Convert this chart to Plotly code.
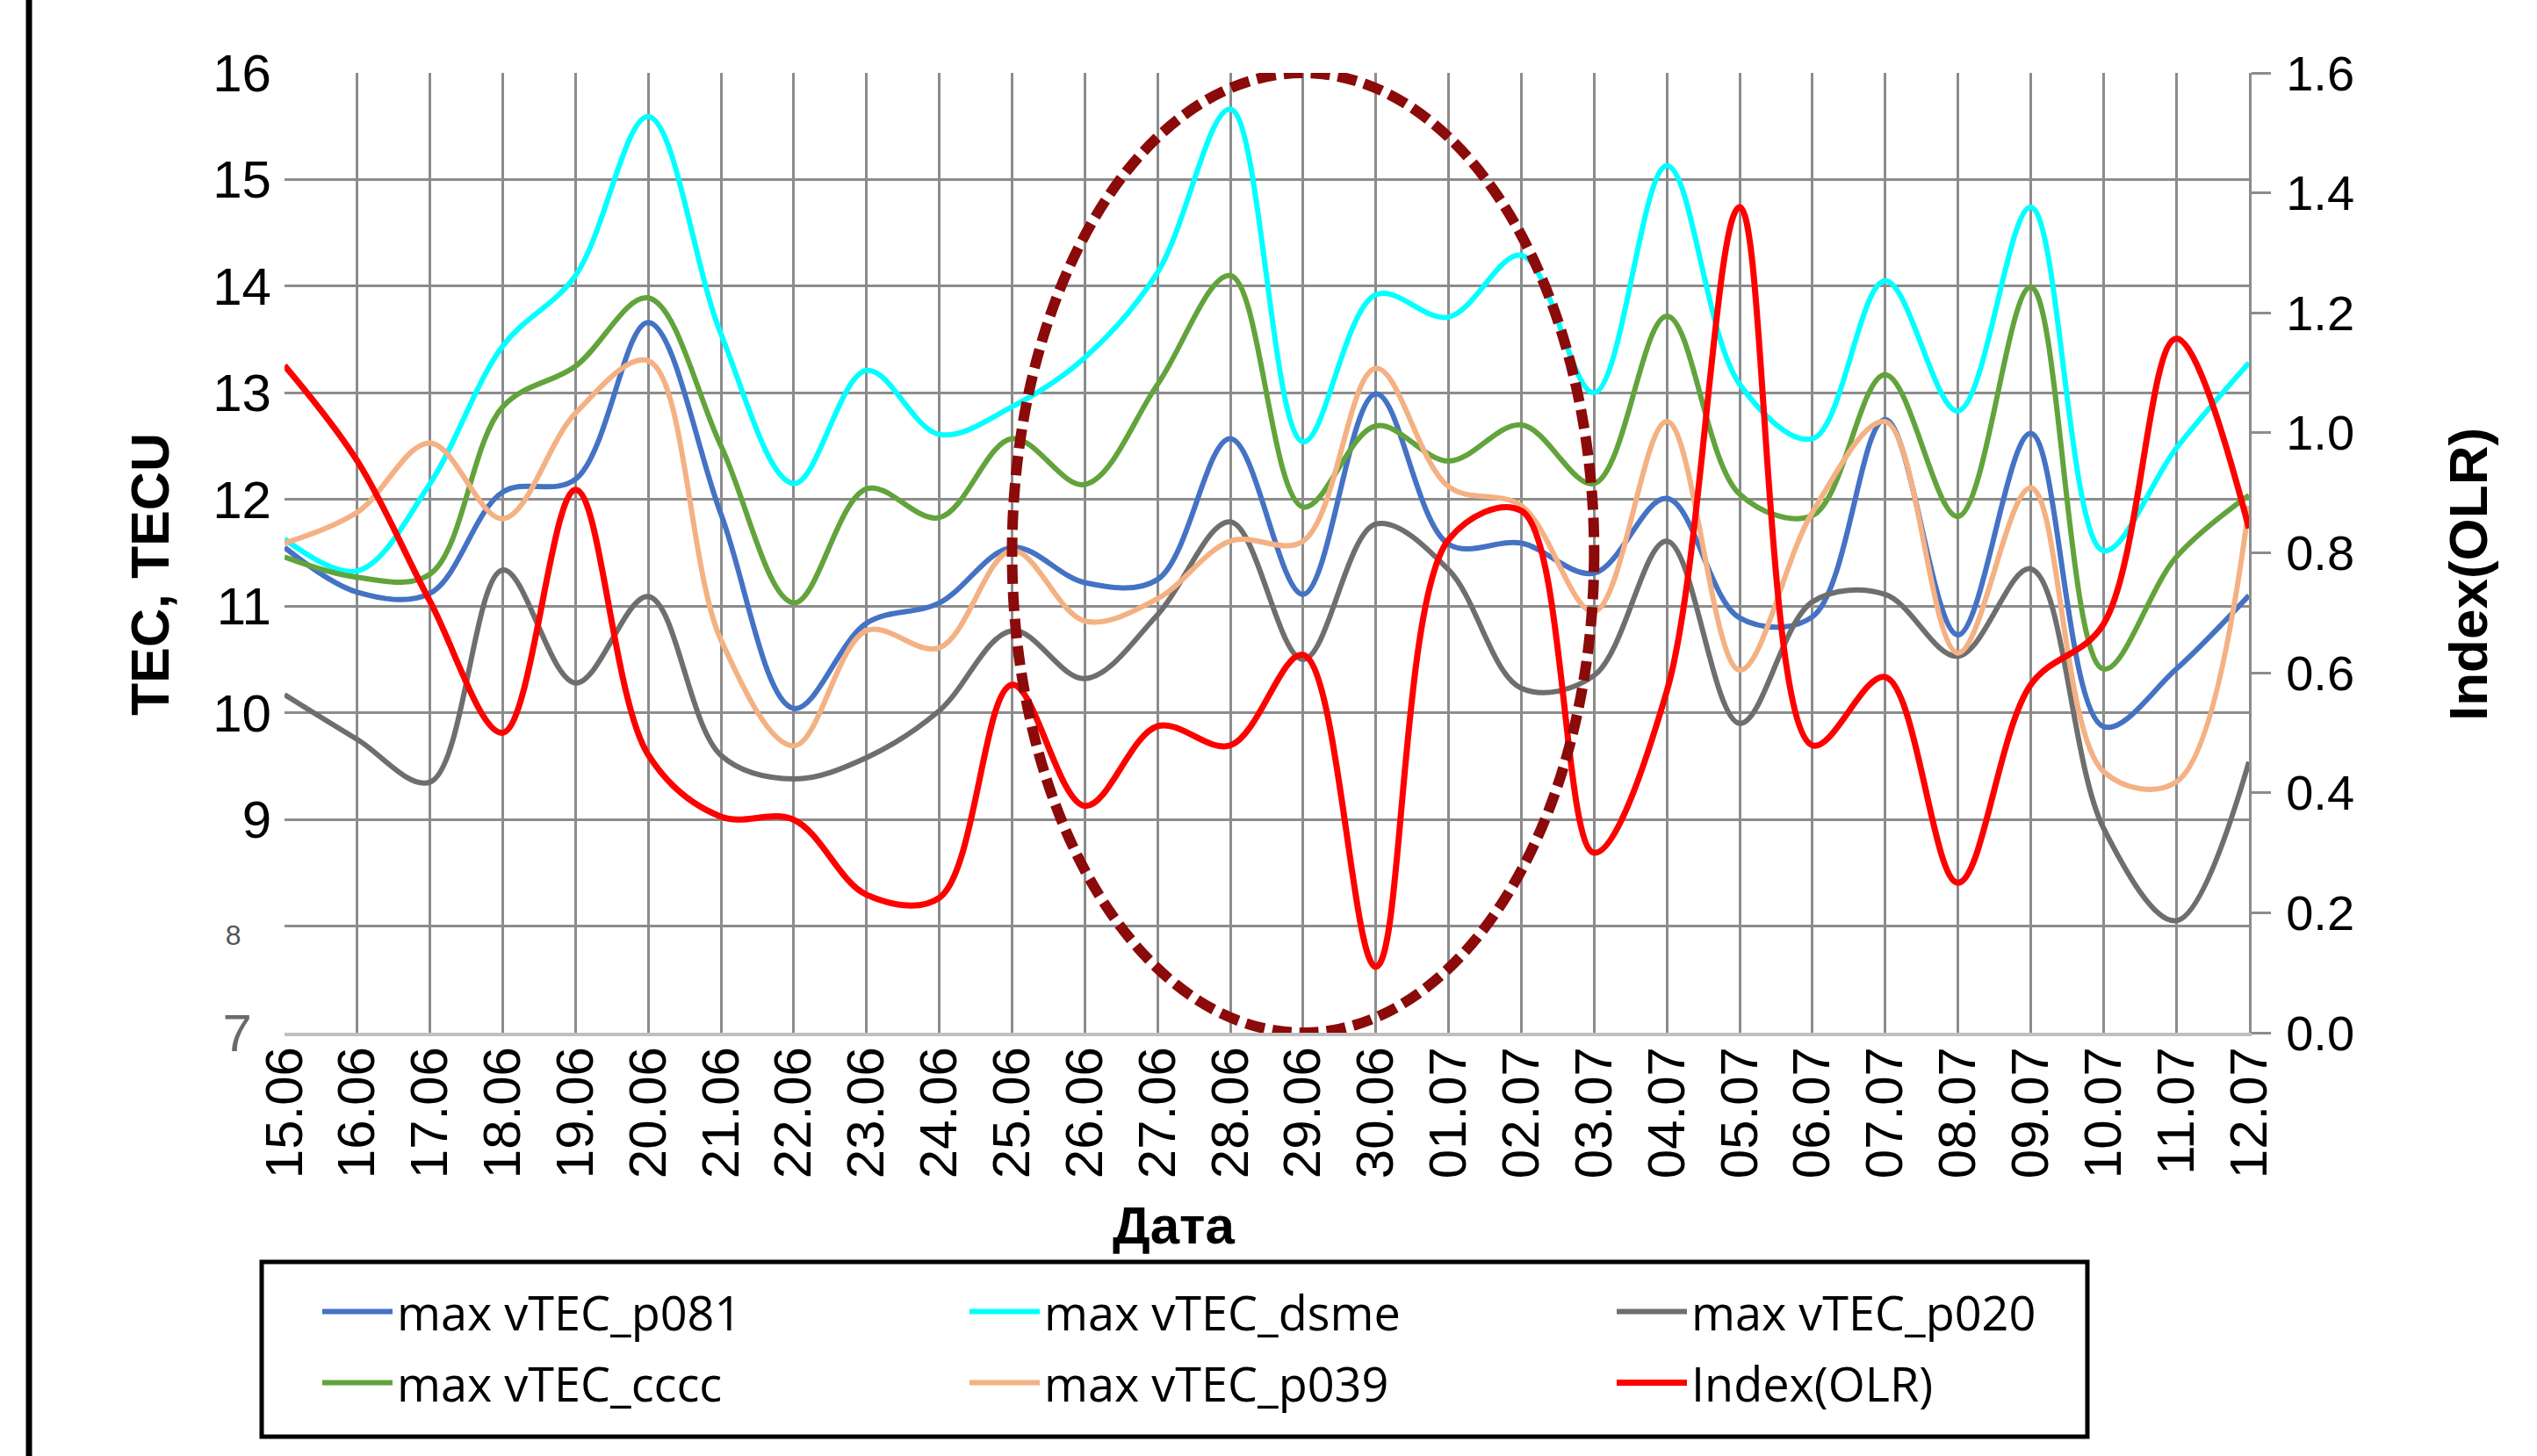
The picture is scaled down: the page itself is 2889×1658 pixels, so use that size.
import plotly.graph_objects as go

dates = ["15.06", "16.06", "17.06", "18.06", "19.06", "20.06", "21.06", "22.06", "23.06",
         "24.06", "25.06", "26.06", "27.06", "28.06", "29.06", "30.06", "01.07", "02.07",
         "03.07", "04.07", "05.07", "06.07", "07.07", "08.07", "09.07", "10.07", "11.07", "12.07"]

p081 = [11.55, 11.13, 11.12, 12.07, 12.19, 13.66, 11.86, 10.04, 10.84, 11.03, 11.55, 11.22, 11.25, 12.57,
        11.11, 12.99, 11.58, 11.59, 11.31, 12.01, 10.89, 10.90, 12.75, 10.73, 12.62, 9.87, 10.41, 11.10]
dsme = [11.63, 11.33, 12.15, 13.44, 14.10, 15.59, 13.55, 12.15, 13.21, 12.61, 12.87, 13.33, 14.13, 15.66,
        12.54, 13.92, 13.71, 14.29, 13.00, 15.13, 13.08, 12.57, 14.05, 12.83, 14.74, 11.52, 12.48, 13.28]
p020 = [10.17, 9.75, 9.35, 11.34, 10.28, 11.09, 9.60, 9.38, 9.58, 10.02, 10.77, 10.32, 10.92, 11.79,
        10.50, 11.77, 11.34, 10.23, 10.35, 11.61, 9.90, 11.04, 11.11, 10.53, 11.35, 8.92, 8.05, 9.54]
cccc = [11.46, 11.27, 11.30, 12.87, 13.25, 13.89, 12.50, 11.03, 12.10, 11.83, 12.57, 12.14, 13.08, 14.10,
        11.93, 12.69, 12.36, 12.70, 12.15, 13.72, 12.05, 11.85, 13.17, 11.84, 13.99, 10.41, 11.46, 12.04]
p039 = [11.59, 11.88, 12.53, 11.82, 12.81, 13.30, 10.68, 9.69, 10.77, 10.61, 11.52, 10.86, 11.07, 11.61,
        11.61, 13.23, 12.12, 11.94, 10.95, 12.73, 10.40, 11.88, 12.73, 10.56, 12.11, 9.45, 9.35, 11.94]
olr = [1.112, 0.953, 0.719, 0.500, 0.905, 0.463, 0.360, 0.355, 0.230, 0.225, 0.580, 0.378, 0.511, 0.479,
       0.630, 0.110, 0.822, 0.870, 0.300, 0.570, 1.376, 0.479, 0.593, 0.250, 0.580, 0.681, 1.157, 0.841]

left_ticks = [7, 8, 9, 10, 11, 12, 13, 14, 15, 16]
spacer = "<span style='font-size:80px;color:rgba(0,0,0,0)'>.</span>"
spacer8 = "<span style='font-size:62px;color:rgba(0,0,0,0)'>1</span>"
left_ticktext = ["<span style='color:#6A6A6A'>7</span>" + spacer,
                 "<span style='font-size:32px;color:#555555'>8</span>" + spacer8,
                 "9", "10", "11", "12", "13", "14", "15", "16"]

W, H = 2889, 1658
L, R, T, B = 324, 2561, 83, 1176
pw = R - L
ph = B - T


def px_x(xp):
    return (xp - L) / pw


def px_y(yp):
    return (B - yp) / ph


fig = go.Figure()

series = [
    ("max vTEC_p081", p081, "#4472C4", 6, "y", "legend"),
    ("max vTEC_dsme", dsme, "#00FFFF", 6, "y", "legend"),
    ("max vTEC_p020", p020, "#6E6E6E", 6, "y", "legend"),
    ("max vTEC_cccc", cccc, "#62A33C", 6, "y", "legend2"),
    ("max vTEC_p039", p039, "#F4B183", 6, "y", "legend2"),
    ("Index(OLR)", olr, "#FF0000", 7, "y2", "legend2"),
]
for name, vals, col, w, ax, lg in series:
    fig.add_trace(go.Scatter(x=dates, y=vals, name=name, mode="lines", yaxis=ax, legend=lg,
                             line=dict(color=col, width=w, shape="spline", smoothing=1.0)))

legend_common = dict(
    orientation="h", xref="paper", yref="paper",
    x=px_x(362), xanchor="left", yanchor="top",
    entrywidth=642, entrywidthmode="pixels", itemwidth=80,
    font=dict(size=54, family="Open Sans, Noto Sans"),
    bgcolor="rgba(0,0,0,0)", borderwidth=0, traceorder="normal",
)

fig.update_layout(
    width=W, height=H,
    margin=dict(l=L, r=W - R, t=T, b=H - B, autoexpand=False),
    paper_bgcolor="white", plot_bgcolor="white",
    font=dict(family="Liberation Sans, Arial", color="black"),
    xaxis=dict(
        type="category", range=[0, len(dates) - 1],
        tickangle=-90, tickfont=dict(size=60, family="Liberation Sans, Arial"),
        showgrid=True, gridcolor="#8C8C8C", gridwidth=2.5,
        showline=True, linecolor="#BFBFBF", linewidth=4,
        ticks="", ticklabelstandoff=-12,
    ),
    yaxis=dict(
        range=[7, 16], tickvals=left_ticks, ticktext=left_ticktext,
        tickfont=dict(size=60, family="Liberation Sans, Arial"),
        showgrid=True, gridcolor="#8C8C8C", gridwidth=3, zeroline=False,
        showline=False, ticks="", ticklabelstandoff=14,
    ),
    yaxis2=dict(
        overlaying="y", side="right", range=[0, 1.6], dtick=0.2, tickformat=".1f",
        tickfont=dict(size=56, family="Liberation Sans, Arial"),
        showgrid=False, zeroline=False, ticks="outside", ticklen=22, tickwidth=3,
        tickcolor="#8C8C8C", showline=True, linecolor="#8C8C8C", linewidth=3,
        ticklabelstandoff=6,
    ),
    showlegend=True,
    legend=dict(legend_common, y=px_y(1452)),
    legend2=dict(legend_common, y=px_y(1533)),
    annotations=[
        dict(text="<b>TEC, TECU</b>", xref="paper", yref="paper", x=px_x(171), y=px_y(654),
             textangle=-90, showarrow=False, xanchor="center", yanchor="middle",
             font=dict(size=61, family="Liberation Sans, Arial", color="black")),
        dict(text="<b>Index(OLR)</b>", xref="paper", yref="paper", x=px_x(2810), y=px_y(654),
             textangle=-90, showarrow=False, xanchor="center", yanchor="middle",
             font=dict(size=62, family="Liberation Sans, Arial", color="black")),
        dict(text="<b>Дата</b>", xref="paper", yref="paper", x=px_x(1336), y=px_y(1395),
             showarrow=False, xanchor="center", yanchor="middle",
             font=dict(size=60, family="Liberation Sans, Arial", color="black")),
    ],
    shapes=[
        dict(type="circle", xref="x", yref="y", x0=10, x1=18, y0=7, y1=16,
             line=dict(color="#8B0A0A", width=12, dash="22px,9px"), layer="above"),
        dict(type="rect", xref="paper", yref="paper",
             x0=px_x(298), x1=px_x(2377), y0=px_y(1636), y1=px_y(1437),
             line=dict(color="black", width=5), fillcolor="rgba(0,0,0,0)", layer="above"),
        dict(type="line", xref="paper", yref="paper",
             x0=px_x(33), x1=px_x(33), y0=px_y(H), y1=px_y(0),
             line=dict(color="black", width=7), layer="above"),
    ],
)

fig.write_html("out.html")
